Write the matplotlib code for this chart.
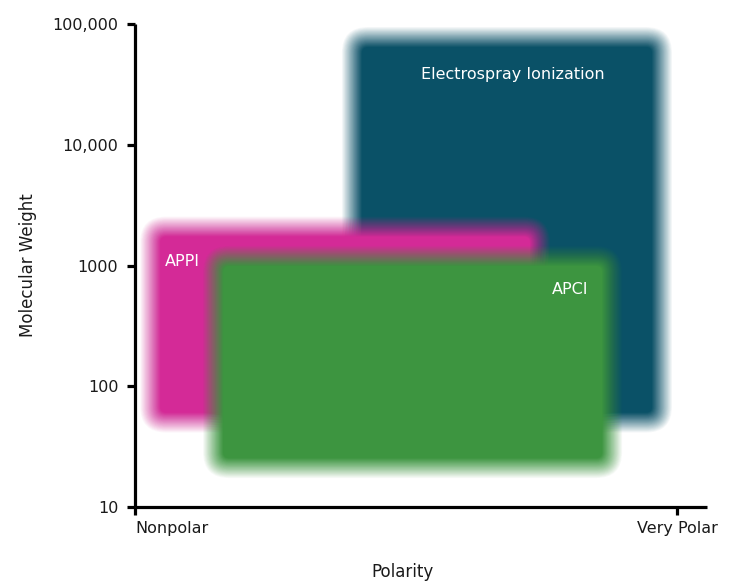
import matplotlib
matplotlib.use("Agg")
import matplotlib.pyplot as plt
from matplotlib.patches import FancyBboxPatch
from matplotlib.transforms import IdentityTransform

# ---- data ----
techniques = ["Electrospray Ionization", "APPI", "APCI"]
polarity_lo = [4.0, 0.28, 1.44]      # Nonpolar = 0, Very Polar = 10
polarity_hi = [9.72, 7.47, 8.80]
mw_lo = [50, 50, 21]
mw_hi = [78000, 2100, 1200]
colors = ["#0a5167", "#d42a97", "#3d9540"]
opacity = [1.0, 0.9, 0.96]

y_ticks = [10, 100, 1000, 10000, 100000]
y_ticklabels = ["10", "100", "1000", "10,000", "100,000"]
x_ticks = [0, 10]
x_ticklabels = ["Nonpolar", "Very Polar"]

label_pos = [(6.97, 38000, "center"), (0.55, 1070, "left"), (8.03, 630, "center")]

W, H, DPI = 736, 586, 100
fig = plt.figure(figsize=(W / DPI, H / DPI), dpi=DPI)
fig.patch.set_facecolor("white")
ax = fig.add_axes([135 / W, (H - 507) / H, 572 / W, 483 / H])
ax.set_yscale("log")
ax.set_ylim(10, 100000)
ax.set_xlim(0, 10.55)
ax.set_facecolor("white")

for s in ["top", "right"]:
    ax.spines[s].set_visible(False)
for s in ["left", "bottom"]:
    ax.spines[s].set_linewidth(2.3)
    ax.spines[s].set_color("black")
    ax.spines[s].set_capstyle("butt")

ax.set_yticks(y_ticks)
ax.set_yticklabels(y_ticklabels)
ax.yaxis.set_minor_locator(matplotlib.ticker.NullLocator())
ax.set_xticks(x_ticks)
ax.set_xticklabels(x_ticklabels)
ax.tick_params(axis="both", which="major", direction="out", length=6, width=2.3,
               color="black", labelsize=11.5, labelcolor="#1a1a1a")
ax.tick_params(axis="y", pad=6)
ax.tick_params(axis="x", pad=4)
xl = ax.get_xticklabels()
xl[0].set_horizontalalignment("left")

ax.set_xlabel("Polarity", fontsize=12, color="#1a1a1a")
ax.set_ylabel("Molecular Weight", fontsize=12, color="#1a1a1a")
ax.xaxis.set_label_coords(0.467, -0.115)
ax.yaxis.set_label_coords(-0.172, 0.5)


def soft_box(x0, x1, y0, y1, color, op=1.0, blur=10.0, radius=16.0, n=26, zorder=1):
    (px0, py0) = ax.transData.transform((x0, y0))
    (px1, py1) = ax.transData.transform((x1, y1))
    for i in range(n):
        off = blur * (1 - 2 * i / (n - 1))
        alpha = 1.0 / (n - i)
        if i == n - 1:
            alpha = 1.0
        r = max(radius + off, 2)
        p = FancyBboxPatch((px0 - off, py0 - off), (px1 - px0) + 2 * off,
                           (py1 - py0) + 2 * off,
                           boxstyle=f"round,pad=0,rounding_size={r}",
                           transform=IdentityTransform(), facecolor=color,
                           edgecolor="none", alpha=alpha, zorder=zorder)
        ax.add_patch(p)


for k in range(len(techniques)):
    # render each box into its own group by using a per-box zorder
    soft_box(polarity_lo[k], polarity_hi[k], mw_lo[k], mw_hi[k], colors[k],
             op=opacity[k], zorder=1 + k)

for k, name in enumerate(techniques):
    x, y, ha = label_pos[k]
    ax.text(x, y, name, color="white", fontsize=11.5, ha=ha, va="center", zorder=10)

fig.savefig("out.png", dpi=DPI, facecolor="white")
